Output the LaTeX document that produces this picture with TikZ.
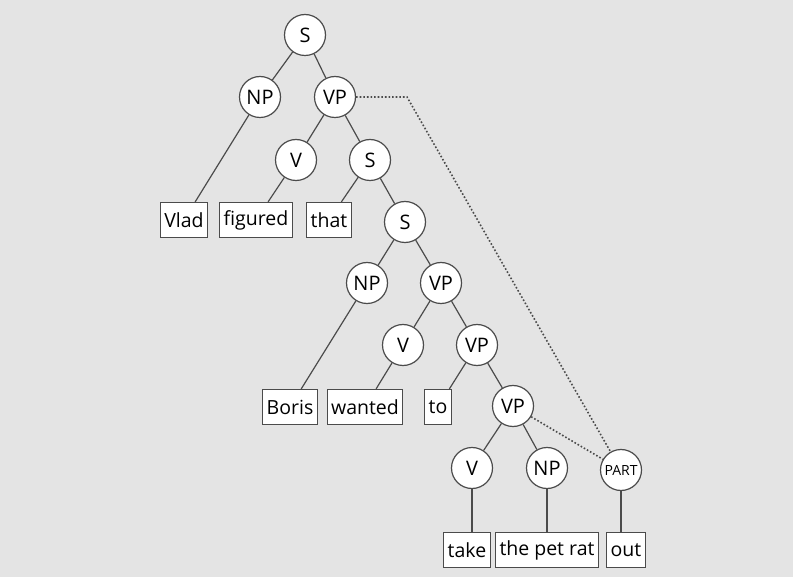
\documentclass[tikz,border=0pt]{standalone}
\usepackage{fontspec}
\setmainfont{Open Sans}
\usepackage{xcolor}
\definecolor{paper}{RGB}{228,228,228}
\definecolor{inkgray}{RGB}{75,75,75}

\begin{document}
\begin{tikzpicture}[
        x=1pt, y=-1pt,
        cat/.style={circle, draw=inkgray, fill=white, line width=1.2pt, minimum size=41pt,
                    inner sep=0pt, font=\fontsize{20}{22}\selectfont},
        word/.style={rectangle, draw=inkgray, fill=white, line width=1.2pt, minimum height=35pt,
                     inner sep=4pt, font=\fontsize{19.5}{21}\selectfont},
        branch/.style={draw=inkgray, line width=1.2pt},
        move/.style={draw=inkgray, line width=1.6pt, dotted},
    ]
        % Fond
        \fill[paper] (0,0) rectangle (793,577);
        \useasboundingbox (0,0) rectangle (793,577);

        % Premier niveau
        \node[cat] (s1) at (305,35) {S};
        \node[cat] (np1) at (260,97) {NP};
        \node[cat] (vp1) at (335,97) {VP};
        \node[cat] (v1) at (296,160) {V};
        \node[cat] (s2) at (370,160) {S};
        \node[word] (vlad) at (184,220) {Vlad};
        \node[word] (figured) at (256,220) {figured};
        \node[word] (that) at (329,220) {that};

        % Proposition enchassee
        \node[cat] (s3) at (405,222) {S};
        \node[cat] (np2) at (367,283) {NP};
        \node[cat] (vp2) at (441,283) {VP};
        \node[cat] (v2) at (403,345) {V};
        \node[cat] (vp3) at (477,345) {VP};
        \node[word] (boris) at (290,407) {Boris};
        \node[word] (wanted) at (365,407) {wanted};
        \node[word] (to) at (438,407) {to};

        % Infinitive
        \node[cat] (vp4) at (513,406) {VP};
        \node[cat] (v3) at (472,468) {V};
        \node[cat] (np3) at (547,468) {NP};
        \node[cat, font=\fontsize{14}{15}\selectfont] (part) at (621,470) {PART};
        \node[word] (take) at (467,550) {take};
        \node[word] (petrat) at (547,550) {the pet rat};
        \node[word] (out) at (626,550) {out};

        % Branches
        \draw[branch] (s1) -- (np1);
        \draw[branch] (s1) -- (vp1);
        \draw[branch] (np1) -- (vlad);
        \draw[branch] (vp1) -- (v1);
        \draw[branch] (vp1) -- (s2);
        \draw[branch] (v1) -- (figured);
        \draw[branch] (s2) -- (that);
        \draw[branch] (s2) -- (s3);
        \draw[branch] (s3) -- (np2);
        \draw[branch] (s3) -- (vp2);
        \draw[branch] (np2) -- (boris);
        \draw[branch] (vp2) -- (v2);
        \draw[branch] (vp2) -- (vp3);
        \draw[branch] (v2) -- (wanted);
        \draw[branch] (vp3) -- (to);
        \draw[branch] (vp3) -- (vp4);
        \draw[branch] (vp4) -- (v3);
        \draw[branch] (vp4) -- (np3);
        \draw[branch] (v3) -- (take.north -| v3);
        \draw[branch] (np3) -- (petrat);
        \draw[branch] (part) -- (out.north -| part);

        % Deplacement de la particule
        \coordinate (bend) at (407,97);
        \draw[move] (vp1) -- (bend) -- (part);
        \draw[move] (vp4) -- (part);
    \end{tikzpicture}
\end{document}
